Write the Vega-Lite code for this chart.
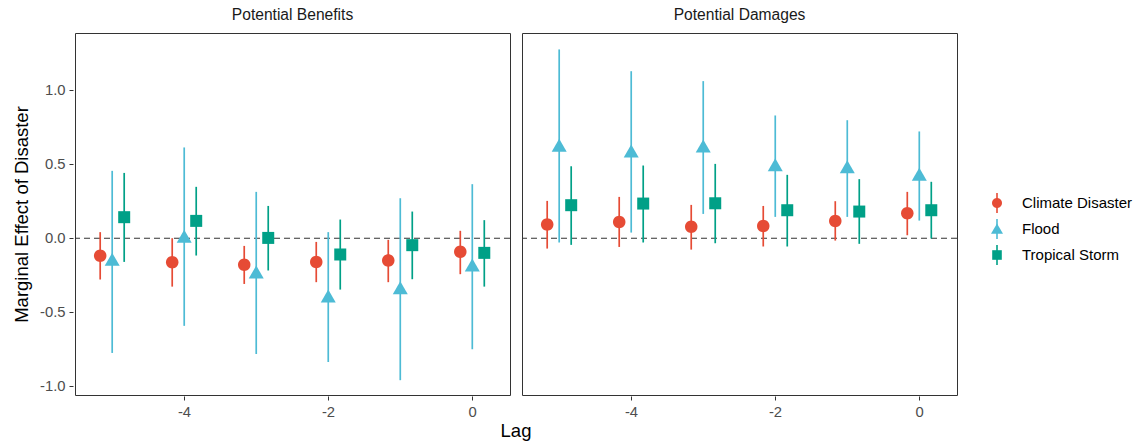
{
  "$schema": "https://vega.github.io/schema/vega-lite/v6.json",
  "padding": {"left": 12, "top": 8, "right": 5, "bottom": 5},
  "background": "white",
  "config": {
    "font": "Liberation Sans",
    "view": {"stroke": "#333333", "strokeWidth": 1},
    "axis": {
      "domain": false, "grid": false,
      "labelFont": "Liberation Sans", "labelFontSize": 14.8, "labelColor": "#4d4d4d",
      "tickColor": "#333333", "tickSize": 4, "tickWidth": 1, "labelPadding": 4,
      "titleFont": "Liberation Sans", "titleFontSize": 18.5, "titleFontWeight": "normal", "titleColor": "#000000"
    },
    "header": {"labelFont": "Liberation Sans", "labelFontSize": 15.6, "labelColor": "#1a1a1a", "labelPadding": 8,
               "titleFont": "Liberation Sans", "titleFontSize": 18.5, "titleFontWeight": "normal", "titleColor": "#000000"},
    "legend": {"labelFont": "Liberation Sans", "labelFontSize": 15, "labelColor": "#000000"}
  },
  "data": {"values": [
    {"panel": "Potential Benefits", "lag": -5, "series": "Climate Disaster", "est": -0.119, "lo": -0.279, "hi": 0.041},
    {"panel": "Potential Benefits", "lag": -5, "series": "Flood", "est": -0.146, "lo": -0.775, "hi": 0.455},
    {"panel": "Potential Benefits", "lag": -5, "series": "Tropical Storm", "est": 0.142, "lo": -0.160, "hi": 0.441},
    {"panel": "Potential Benefits", "lag": -4, "series": "Climate Disaster", "est": -0.162, "lo": -0.327, "hi": 0.0},
    {"panel": "Potential Benefits", "lag": -4, "series": "Flood", "est": 0.010, "lo": -0.592, "hi": 0.613},
    {"panel": "Potential Benefits", "lag": -4, "series": "Tropical Storm", "est": 0.117, "lo": -0.117, "hi": 0.347},
    {"panel": "Potential Benefits", "lag": -3, "series": "Climate Disaster", "est": -0.180, "lo": -0.309, "hi": -0.052},
    {"panel": "Potential Benefits", "lag": -3, "series": "Flood", "est": -0.232, "lo": -0.782, "hi": 0.313},
    {"panel": "Potential Benefits", "lag": -3, "series": "Tropical Storm", "est": 0.002, "lo": -0.218, "hi": 0.218},
    {"panel": "Potential Benefits", "lag": -2, "series": "Climate Disaster", "est": -0.160, "lo": -0.297, "hi": -0.025},
    {"panel": "Potential Benefits", "lag": -2, "series": "Flood", "est": -0.394, "lo": -0.836, "hi": 0.041},
    {"panel": "Potential Benefits", "lag": -2, "series": "Tropical Storm", "est": -0.110, "lo": -0.347, "hi": 0.126},
    {"panel": "Potential Benefits", "lag": -1, "series": "Climate Disaster", "est": -0.151, "lo": -0.297, "hi": -0.011},
    {"panel": "Potential Benefits", "lag": -1, "series": "Flood", "est": -0.338, "lo": -0.959, "hi": 0.270},
    {"panel": "Potential Benefits", "lag": -1, "series": "Tropical Storm", "est": -0.047, "lo": -0.277, "hi": 0.180},
    {"panel": "Potential Benefits", "lag": 0, "series": "Climate Disaster", "est": -0.092, "lo": -0.243, "hi": 0.050},
    {"panel": "Potential Benefits", "lag": 0, "series": "Flood", "est": -0.185, "lo": -0.750, "hi": 0.365},
    {"panel": "Potential Benefits", "lag": 0, "series": "Tropical Storm", "est": -0.099, "lo": -0.327, "hi": 0.122},
    {"panel": "Potential Damages", "lag": -5, "series": "Climate Disaster", "est": 0.092, "lo": -0.070, "hi": 0.252},
    {"panel": "Potential Damages", "lag": -5, "series": "Flood", "est": 0.624, "lo": -0.029, "hi": 1.275},
    {"panel": "Potential Damages", "lag": -5, "series": "Tropical Storm", "est": 0.223, "lo": -0.045, "hi": 0.486},
    {"panel": "Potential Damages", "lag": -4, "series": "Climate Disaster", "est": 0.110, "lo": -0.059, "hi": 0.279},
    {"panel": "Potential Damages", "lag": -4, "series": "Flood", "est": 0.586, "lo": 0.038, "hi": 1.128},
    {"panel": "Potential Damages", "lag": -4, "series": "Tropical Storm", "est": 0.234, "lo": -0.029, "hi": 0.491},
    {"panel": "Potential Damages", "lag": -3, "series": "Climate Disaster", "est": 0.077, "lo": -0.077, "hi": 0.225},
    {"panel": "Potential Damages", "lag": -3, "series": "Flood", "est": 0.619, "lo": 0.164, "hi": 1.061},
    {"panel": "Potential Damages", "lag": -3, "series": "Tropical Storm", "est": 0.236, "lo": -0.034, "hi": 0.502},
    {"panel": "Potential Damages", "lag": -2, "series": "Climate Disaster", "est": 0.083, "lo": -0.056, "hi": 0.218},
    {"panel": "Potential Damages", "lag": -2, "series": "Flood", "est": 0.493, "lo": 0.144, "hi": 0.829},
    {"panel": "Potential Damages", "lag": -2, "series": "Tropical Storm", "est": 0.189, "lo": -0.056, "hi": 0.428},
    {"panel": "Potential Damages", "lag": -1, "series": "Climate Disaster", "est": 0.117, "lo": -0.016, "hi": 0.250},
    {"panel": "Potential Damages", "lag": -1, "series": "Flood", "est": 0.480, "lo": 0.144, "hi": 0.797},
    {"panel": "Potential Damages", "lag": -1, "series": "Tropical Storm", "est": 0.180, "lo": -0.038, "hi": 0.399},
    {"panel": "Potential Damages", "lag": 0, "series": "Climate Disaster", "est": 0.169, "lo": 0.020, "hi": 0.313},
    {"panel": "Potential Damages", "lag": 0, "series": "Flood", "est": 0.428, "lo": 0.119, "hi": 0.721},
    {"panel": "Potential Damages", "lag": 0, "series": "Tropical Storm", "est": 0.189, "lo": -0.002, "hi": 0.381}
  ]},
  "facet": {"column": {"field": "panel", "type": "nominal",
            "header": {"title": "Lag", "titleOrient": "bottom", "labelOrient": "top", "titlePadding": -7}}},
  "spacing": 8,
  "spec": {
    "width": 435,
    "height": 362,
    "layer": [
      {
        "transform": [{"filter": "datum.lag == 0 && datum.series == 'Flood'"}],
        "mark": {"type": "rule", "strokeDash": [6, 4], "color": "#333333", "strokeWidth": 1.1},
        "encoding": {"y": {"datum": 0, "type": "quantitative"}}
      },
      {
        "mark": {"type": "rule", "strokeWidth": 1.7},
        "encoding": {
          "x": {"field": "lag", "type": "ordinal", "sort": "ascending",
                "scale": {"paddingInner": 0, "paddingOuter": 0.02},
                "axis": {"values": [-4, -2, 0], "labelAngle": 0, "title": null}},
          "xOffset": {"field": "series", "type": "nominal", "scale": {"paddingInner": 0, "paddingOuter": 0, "range": [17.75, 53.75]}},
          "y": {"field": "lo", "type": "quantitative",
                "scale": {"domain": [-1.059, 1.386], "nice": false, "zero": false},
                "axis": {"values": [-1, -0.5, 0, 0.5, 1], "title": "Marginal Effect of Disaster", "titlePadding": 8,
                         "labelExpr": "replace(format(datum.value, '.1f'), '\u2212', '-')"}},
          "y2": {"field": "hi"},
          "stroke": {"field": "series", "type": "nominal", "title": null,
                     "scale": {"range": ["#E64B35", "#4DBBD5", "#00A087"]},
                     "legend": {"title": null, "orient": "none", "legendX": 911, "legendY": 160, "rowPadding": 6, "clipHeight": 20, "labelOffset": 14,
                               "symbolSize": 400, "symbolStrokeWidth": 1.6, "symbolType": "M0,-1L0,1",
                               "symbolFillColor": "transparent", "labelOpacity": 0}}
        }
      },
      {
        "mark": {"type": "point", "opacity": 1, "size": 625, "filled": true},
        "encoding": {
          "x": {"field": "lag", "type": "ordinal", "sort": "ascending"},
          "xOffset": {"field": "series", "type": "nominal"},
          "y": {"field": "est", "type": "quantitative"},
          "fill": {"field": "series", "type": "nominal", "title": null,
                    "scale": {"range": ["#E64B35", "#4DBBD5", "#00A087"]},
                    "legend": {"title": null, "orient": "none", "legendX": 911, "legendY": 160, "rowPadding": 6, "clipHeight": 20, "labelOffset": 14,
                               "symbolSize": 400}},
          "shape": {"field": "series", "type": "nominal", "title": null,
                    "legend": {"title": null, "orient": "none", "legendX": 911, "legendY": 160, "rowPadding": 6, "clipHeight": 20, "labelOffset": 14,
                               "symbolSize": 400},
                    "scale": {"range": [
                      "M-0.5,0A0.5,0.5 0 1,0 0.5,0A0.5,0.5 0 1,0 -0.5,0Z",
                      "M0,-0.56L0.6,0.48L-0.6,0.48Z",
                      "M-0.48,-0.48H0.48V0.48H-0.48Z"
                    ]}}
        }
      }
    ]
  }
}
